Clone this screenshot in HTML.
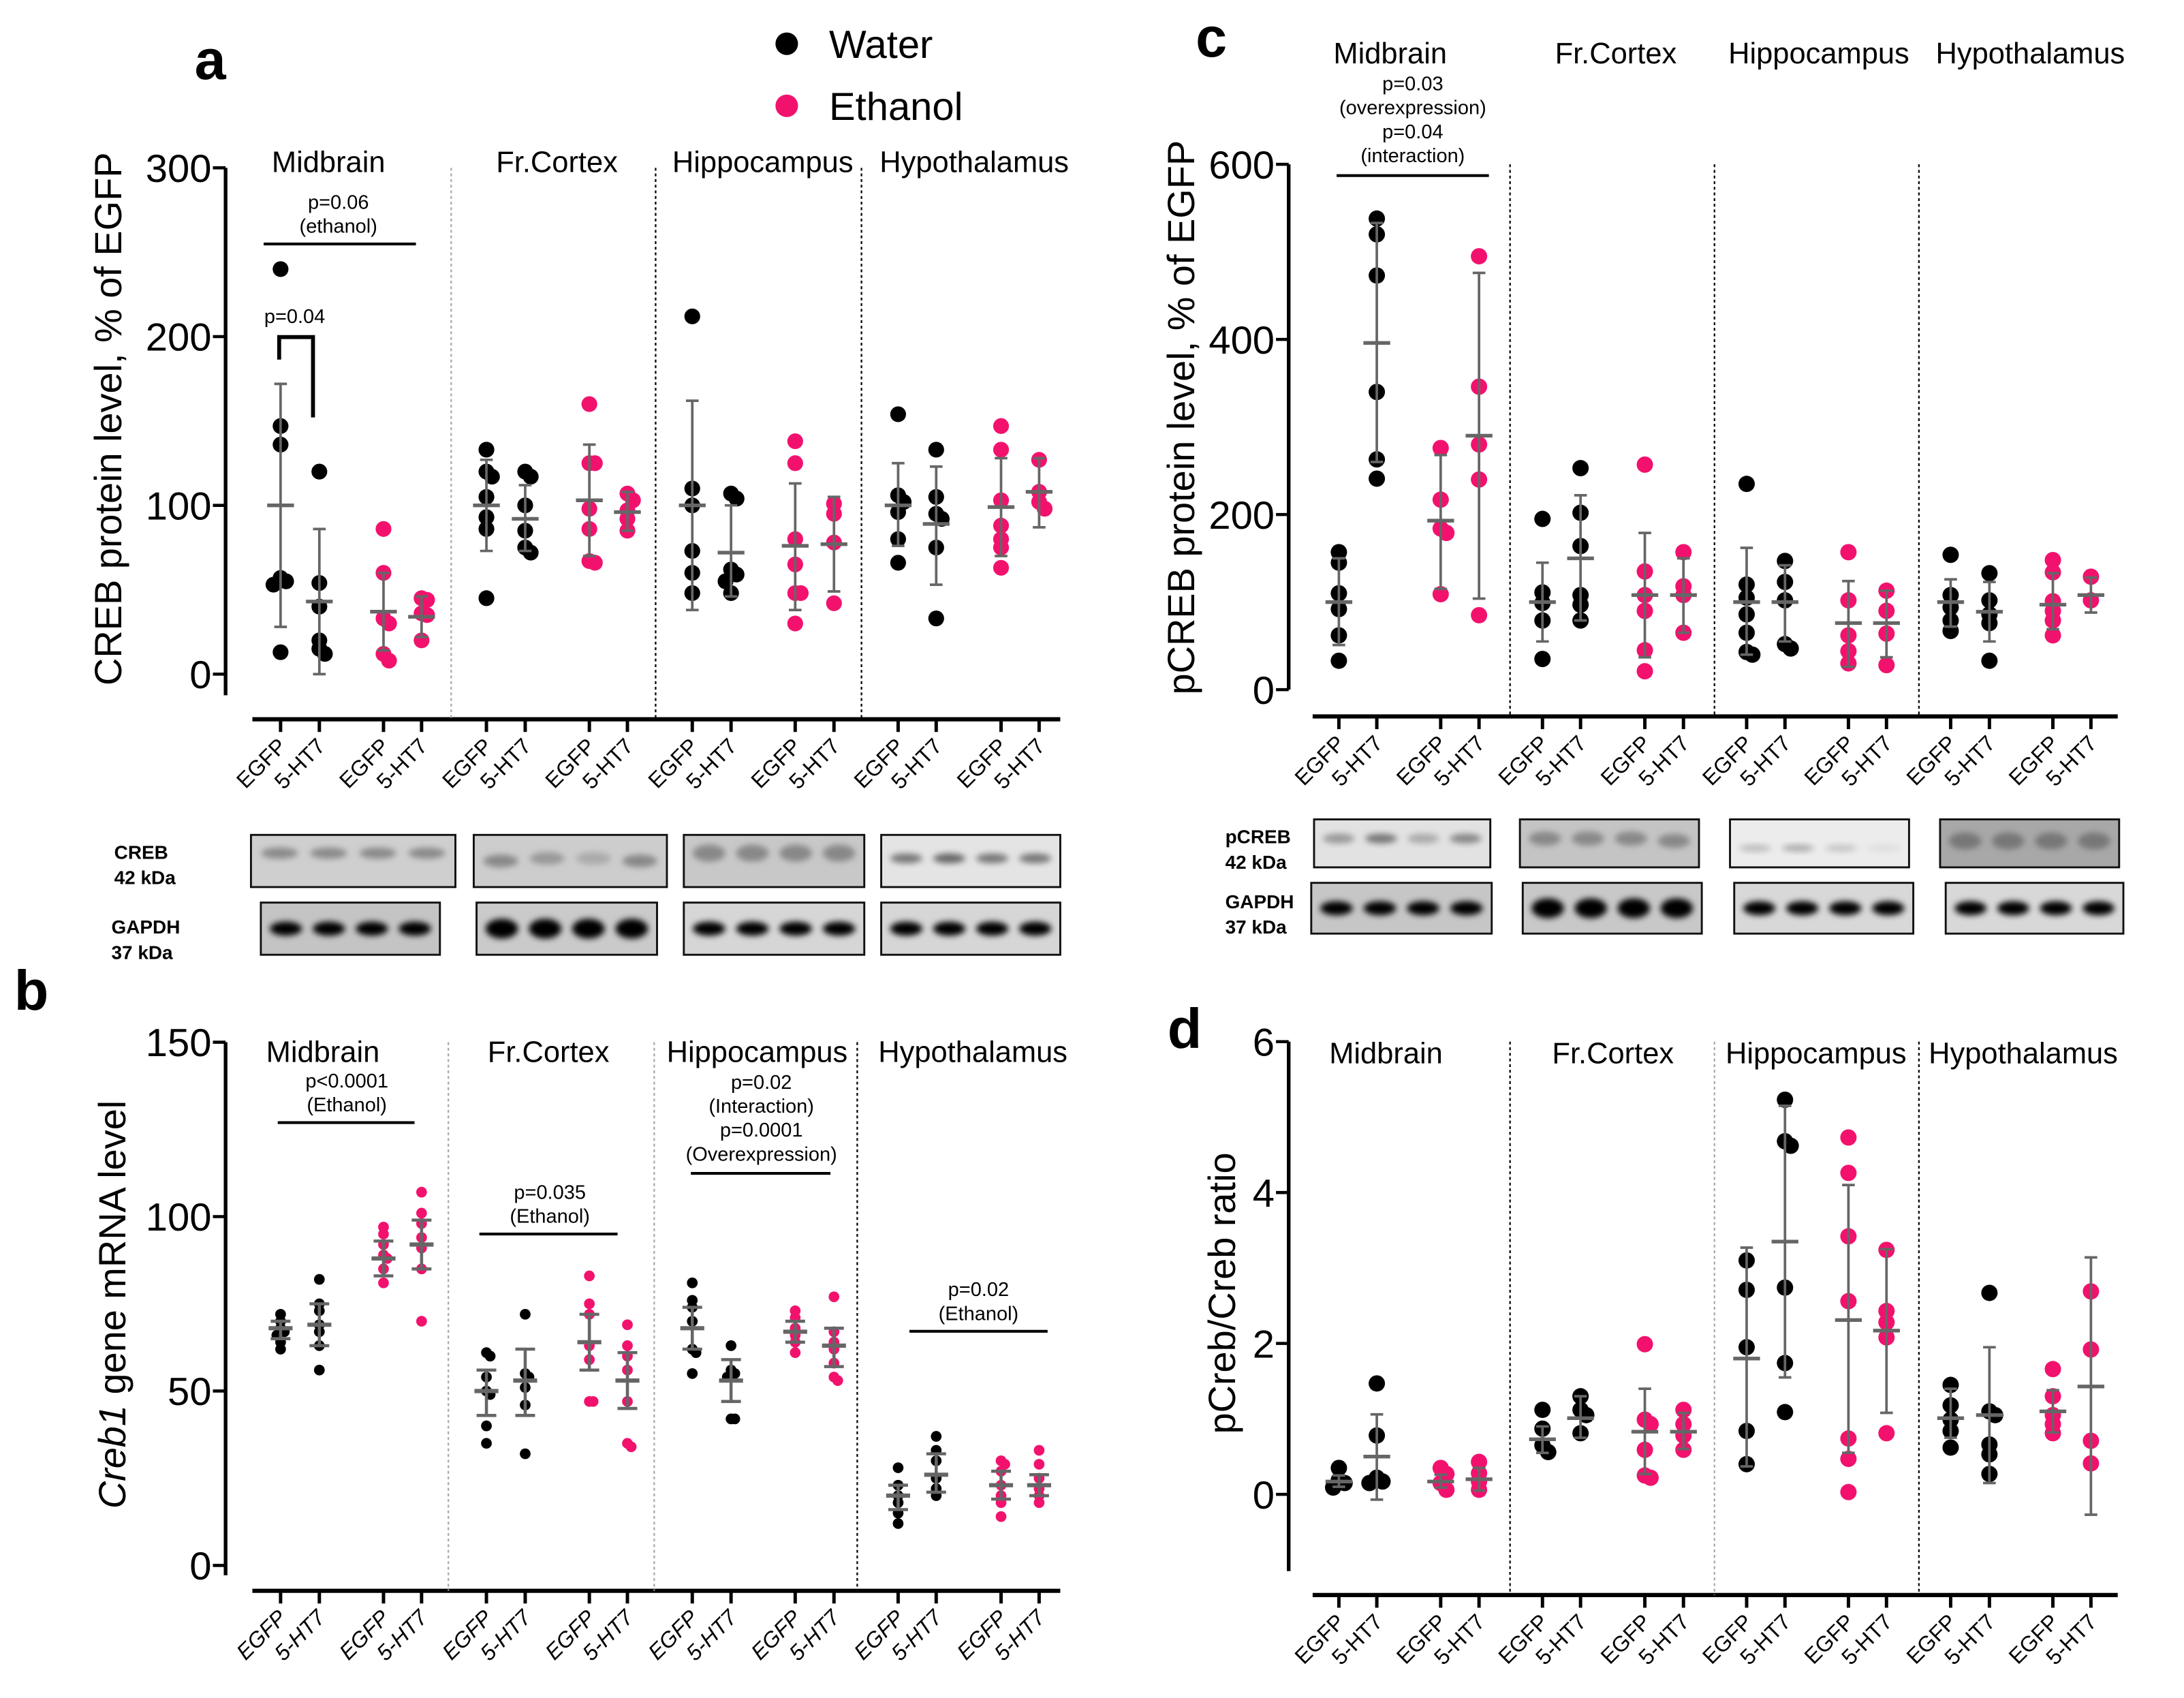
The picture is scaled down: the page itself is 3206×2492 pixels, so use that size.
<!DOCTYPE html>
<html><head><meta charset="utf-8"><style>
html,body{margin:0;padding:0;background:#fff;}
svg{display:block;font-family:"Liberation Sans",Arial,sans-serif;}
</style></head><body>
<svg id="fig" width="3206" height="2492" viewBox="0 0 1549 1204" xmlns="http://www.w3.org/2000/svg">
<defs>
<filter id="blur" x="-20%" y="-50%" width="140%" height="200%"><feGaussianBlur stdDeviation="2.2"/></filter>
</defs>
<g id="root"></g>
</svg>
<script>
// ---------- data ----------
const groupNames = ["EGFP","5-HT7","EGFP","5-HT7","EGFP","5-HT7","EGFP","5-HT7","EGFP","5-HT7","EGFP","5-HT7","EGFP","5-HT7","EGFP","5-HT7"];
const regions = ["Midbrain","Fr.Cortex","Hippocampus","Hypothalamus"];

const aPoints = [[240,147,136,57,55,53,13],[120,54,40,20,15,12],[86,60,33,30,12,8],[45,44,36,35,20],
 [133,120,117,105,93,86,45],[120,117,100,85,75,72],[160,125,125,98,86,67,66],[107,103,97,92,85],
 [212,110,100,73,60,48],[107,104,62,59,55,48],[138,125,80,65,48,48,30],[101,95,78,42],
 [154,106,102,96,80,66],[133,105,95,92,75,33],[147,133,103,88,80,75,63],[127,108,102,98]];
const aMeans = [100,43,37,34,100,92,103,96,100,72,76,77,100,89,99,108];
const aLo = [28,0,14,22,73,73,70,85,38,46,38,49,76,53,70,87];
const aHi = [172,86,60,46,127,112,136,108,162,100,113,105,125,123,128,128];

const bPoints = [[72,70,68,67,66,64,62],[82,75,73,69,67,63,56],[97,95,92,89,88,85,81],[107,101,98,94,91,85,70],
 [61,60,54,50,49,40,35],[72,55,54,51,46,32],[83,75,72,63,59,47,47],[69,63,60,56,47,35,34],
 [81,76,74,70,62,61,55],[63,56,55,54,42,42],[73,71,68,66,64,61],[77,67,64,62,58,54,53],
 [28,23,20,18,15,12],[37,33,30,25,22,20],[30,29,27,23,20,18,14],[33,29,25,22,20,18]];
const bMeans = [68,69,88,92,50,53,64,53,68,53,67,63,20,26,23,23];
const bLo = [65,63,83,85,43,43,56,45,62,47,64,57,16,21,19,20];
const bHi = [70,75,93,99,56,62,72,61,74,59,70,68,23,32,27,26];

const cPoints = [[157,145,110,92,62,33],[538,520,473,340,263,241],[276,217,184,179,109],[495,346,280,240,85],
 [195,111,99,79,35],[253,202,164,108,97,79],[257,135,108,90,45,21],[157,118,108,65],
 [235,120,105,86,65,43,40],[147,123,102,52,47],[157,102,62,44,30],[113,90,64,28],
 [154,108,94,79,67],[133,102,86,76,33],[148,134,101,90,79,62],[129,102]];
const cMeans = [100,396,193,290,100,150,108,108,100,100,76,76,100,89,97,108];
const cLo = [51,260,115,104,55,79,37,65,40,55,26,37,72,55,69,88];
const cHi = [150,533,268,476,145,222,179,150,162,142,124,113,126,123,133,128];

const dPoints = [[0.35,0.19,0.15,0.09],[1.47,0.78,0.22,0.17,0.15],[0.35,0.27,0.15,0.06],[0.43,0.28,0.17,0.06],
 [1.12,0.87,0.65,0.56],[1.3,1.12,1.05,0.81],[1.99,0.99,0.93,0.59,0.25,0.22],[1.12,0.93,0.78,0.59],
 [3.1,2.71,1.95,0.84,0.4],[5.23,4.68,4.62,2.74,1.74,1.09],[4.73,4.26,3.42,2.56,0.74,0.47,0.03],[3.24,2.43,2.28,2.08,0.81],
 [1.45,1.18,0.99,0.84,0.62],[2.67,1.1,1.05,0.66,0.53,0.27],[1.66,1.3,1.05,0.93,0.81],[2.69,1.92,0.71,0.41]];
const dMeans = [0.17,0.5,0.17,0.2,0.73,1.01,0.83,0.83,1.8,3.35,2.31,2.17,1.01,1.05,1.1,1.43];
const dLo = [0.1,-0.07,0.09,0.05,0.55,0.75,0.27,0.6,0.37,1.55,0.55,1.08,0.75,0.15,0.82,-0.27];
const dHi = [0.25,1.06,0.26,0.35,0.9,1.3,1.4,1.08,3.27,5.15,4.1,3.25,1.4,1.95,1.38,3.14];

const aTicks = [0,100,200,300];
const bTicks = [0,50,100,150];
const cTicks = [0,200,400,600];
const dTicks = [0,2,4,6];

// ---------- helpers ----------
const NS = "http://www.w3.org/2000/svg";
const root = document.getElementById("root");
const PINK = "#f2126e";
function mk(tag, attrs, parent){
  const e = document.createElementNS(NS, tag);
  for (const k in attrs) e.setAttribute(k, attrs[k]);
  (parent||root).appendChild(e);
  return e;
}
function txt(s, attrs, parent){ const e = mk("text", attrs, parent); e.textContent = s; return e; }

const xsLeft = [199,226.5,272,299,345,372.5,418,445,491,518.5,564,591.5,637,664,710,737];
const xsRight = [949.6,976.5,1021.8,1049,1094,1121,1166.6,1194,1238.8,1266,1311,1338,1383.5,1411,1456,1483];

function drawPanel(P){
  const g = mk("g", {});
  
  
  const y = v => P.y0 - (v - P.vmin) * (P.y0 - P.y1) / (P.vmax - P.vmin);
  const ya = mk("line", {x1:P.ax, x2:P.ax, y1:P.y1, y2:P.axBottom, stroke:"#000", "stroke-width":2.6}, g);
  
  
  P.ticks.forEach(t => {
    const tl = mk("line", {x1:P.ax-9, x2:P.ax, y1:y(t), y2:y(t), stroke:"#000", "stroke-width":2.2}, g);
    
    
    const tt = txt(String(t), {x:P.ax-10, y:y(t)+10, "text-anchor":"end", "font-size":28}, g);
    
    
  });
  const yt = mk("text", {transform:`translate(${P.titleX},${P.titleY}) rotate(-90)`, "text-anchor":"middle", "font-size":27}, g);
  
  
  if (P.italicPart){
    const s1 = document.createElementNS(NS,"tspan"); s1.setAttribute("font-style","italic"); s1.textContent = P.italicPart; yt.appendChild(s1);
    const s2 = document.createElementNS(NS,"tspan"); s2.textContent = P.title; yt.appendChild(s2);
  } else yt.textContent = P.title;
  const xa = mk("line", {x1:P.xl, x2:P.xr, y1:P.xaY, y2:P.xaY, stroke:"#000", "stroke-width":3}, g);
  
  
  P.xs.forEach((x,i) => {
    const tk = mk("line", {x1:x, x2:x, y1:P.xaY, y2:P.xaY+9, stroke:"#000", "stroke-width":2.4}, g);
    
    
    const lb = txt(groupNames[i], {transform:`translate(${x+5},${P.xaY+20}) rotate(-45)`, "text-anchor":"end", "font-size":15.5, "font-style":P.italicX?"italic":"normal"}, g);
    
    
  });
  P.dividers.forEach((d,i) => {
    const dl = mk("line", {x1:d, x2:d, y1:P.y1, y2:P.xaY, stroke:P.divColors[i], "stroke-width":1.1, "stroke-dasharray":"2,2"}, g);
    
    
  });
  regions.forEach((r,i) => {
    const rl = txt(r, {x:P.regX[i], y:P.regY, "text-anchor":"middle", "font-size":21}, g);
    
    
  });
  P.points.forEach((pts,i) => {
    const x = P.xs[i];
    const col = (i%4) < 2 ? "#000" : PINK;
    const gg = mk("g", {}, g);
    
    
    const placed = [];
    pts.forEach(v => {
      const py = y(v);
      let off = 0;
      const near = placed.filter(p => Math.abs(p.y - py) < P.r*0.9);
      if (near.length === 1) off = near[0].off <= 0 ? P.r*0.7 : -P.r*0.7;
      else if (near.length >= 2) off = (near.length % 2 ? 1 : -1) * P.r * 0.9;
      placed.push({y:py, off:off});
      const c = mk("circle", {cx:x+off, cy:py, r:P.r, fill:col}, gg);
      
      
    });
    const lo = y(P.lo[i]), hi = y(P.hi[i]), m = y(P.means[i]);
    const e1 = mk("line", {x1:x, x2:x, y1:lo, y2:hi, stroke:"#666", "stroke-width":P.ew}, gg);
    
    
    [lo,hi].forEach(yy => {
      const cap = mk("line", {x1:x-P.cap, x2:x+P.cap, y1:yy, y2:yy, stroke:"#666", "stroke-width":P.ew}, gg);
      
      
    });
    const ml = mk("line", {x1:x-P.mw, x2:x+P.mw, y1:m, y2:m, stroke:"#666", "stroke-width":P.ew+0.8}, gg);
    
    
  });
  P.annots.forEach(a => {
    a.lines.forEach((s,k) => {
      const t = txt(s, {x:a.x, y:a.y + k*17, "text-anchor":"middle", "font-size":14}, g);
      
      
    });
    const l = mk("line", {x1:a.x1, x2:a.x2, y1:a.ly, y2:a.ly, stroke:"#000", "stroke-width":2}, g);
    
    
  });
  return g;
}

drawPanel({name:"panel-a", ax:160, y0:478, y1:119, vmin:0, vmax:300, axBottom:493, ticks:aTicks,
  title:"CREB protein level, % of EGFP", titleX:86, titleY:297, xl:179, xr:752, xaY:510, xs:xsLeft,
  dividers:[320,465,611], divColors:["#aaa","#000","#000"], regX:[233,395,541,691], regY:122,
  points:aPoints, means:aMeans, lo:aLo, hi:aHi, r:5.6, ew:1.8, cap:4.5, mw:9.5,
  annots:[{x:240,y:148,lines:["p=0.06","(ethanol)"],x1:187,x2:295,ly:173}]});

drawPanel({name:"panel-b", ax:160, y0:1110, y1:739, vmin:0, vmax:150, axBottom:1117, ticks:bTicks,
  title:" gene mRNA level", italicPart:"Creb1", titleX:89, titleY:925, xl:179, xr:752, xaY:1128, xs:xsLeft, italicX:true,
  dividers:[318,464,608], divColors:["#aaa","#aaa","#000"], regX:[229,389,537,690], regY:753,
  points:bPoints, means:bMeans, lo:bLo, hi:bHi, r:3.8, ew:2.2, cap:7, mw:8.5,
  annots:[{x:246,y:771,lines:["p<0.0001","(Ethanol)"],x1:197,x2:294,ly:796},
          {x:390,y:850,lines:["p=0.035","(Ethanol)"],x1:340,x2:438,ly:875},
          {x:540,y:772,lines:["p=0.02","(Interaction)","p=0.0001","(Overexpression)"],x1:490,x2:589,ly:832},
          {x:694,y:919,lines:["p=0.02","(Ethanol)"],x1:645,x2:743,ly:944}]});

drawPanel({name:"panel-c", ax:914, y0:489, y1:116.5, vmin:0, vmax:600, axBottom:489, ticks:cTicks,
  title:"pCREB protein level, % of EGFP", titleX:847, titleY:296, xl:931, xr:1502, xaY:508, xs:xsRight,
  dividers:[1071,1216,1361], divColors:["#000","#000","#000"], regX:[986,1146,1290,1440], regY:45,
  points:cPoints, means:cMeans, lo:cLo, hi:cHi, r:5.8, ew:1.8, cap:4.5, mw:9.5,
  annots:[{x:1002,y:64,lines:["p=0.03","(overexpression)","p=0.04","(interaction)"],x1:948,x2:1056,ly:124.5}]});

drawPanel({name:"panel-d", ax:914, y0:1059.6, y1:738.6, vmin:0, vmax:6, axBottom:1114, ticks:dTicks,
  title:"pCreb/Creb ratio", titleX:876, titleY:917, xl:931, xr:1502, xaY:1131, xs:xsRight,
  dividers:[1071,1216,1361], divColors:["#000","#aaa","#000"], regX:[983,1144,1288,1435], regY:754,
  points:dPoints, means:dMeans, lo:dLo, hi:dHi, r:5.8, ew:1.8, cap:4.5, mw:9.5, annots:[]});

const bt = txt("p=0.04", {x:209, y:229, "text-anchor":"middle", "font-size":14});


const br = mk("path", {d:"M198,255 V239 H222 V296", fill:"none", stroke:"#000", "stroke-width":2.8});



[["a",138,56],["b",10,716],["c",848,40],["d",828,743]].forEach(l => {
  const t = txt(l[0], {x:l[1], y:l[2], "font-size":40, "font-weight":"bold"});
  
  
});

const lg = mk("g", {});


const ld1 = mk("circle", {cx:558, cy:31, r:8, fill:"#000"}, lg);


const lt1 = txt("Water", {x:588, y:41, "font-size":28}, lg);


const ld2 = mk("circle", {cx:558, cy:75, r:8, fill:PINK}, lg);


const lt2 = txt("Ethanol", {x:588, y:85, "font-size":28}, lg);



function blot(x, y, w, h, bg, bands, bandH, name){
  const g = mk("g", {});
  
  
  mk("rect", {x:x, y:y, width:w, height:h, fill:bg}, g);
  bands.forEach((b,i) => {
    const bx = x + w*(0.14 + i*0.24);
    mk("ellipse", {cx:bx, cy:y+h*b[1], rx:w*0.09, ry:bandH, fill:b[0], filter:"url(#blur)"}, g);
  });
  mk("rect", {x:x, y:y, width:w, height:h, fill:"none", stroke:"#111", "stroke-width":1.4}, g);
}
function blotLabel(x, y, a, b){
  const t1 = txt(a, {x:x, y:y, "font-size":13.5, "font-weight":"bold"});
  
  
  const t2 = txt(b, {x:x, y:y+18, "font-size":13.5, "font-weight":"bold"});
  
  
}
const weak = c => [[c,0.35],[c,0.35],[c,0.35],[c,0.35]];
blotLabel(81,609,"CREB","42 kDa");
blotLabel(79,662,"GAPDH","37 kDa");
blot(178,592,145,37,"#cfcfcf",weak("#8a8a8a"),4,"creb-blot-midbrain");
blot(336,592,137,37,"#cdcdcd",[["#888",0.5],["#999",0.45],["#aaa",0.45],["#888",0.5]],4.5,"creb-blot-frcortex");
blot(485,592,128,37,"#c8c8c8",weak("#888"),6,"creb-blot-hippocampus");
blot(625,592,127,37,"#e4e4e4",[["#777",0.45],["#666",0.45],["#777",0.45],["#777",0.45]],3.5,"creb-blot-hypothalamus");
const strong = [["#000",0.5],["#000",0.5],["#000",0.5],["#000",0.5]];
blot(185,640,127,37,"#c4c4c4",strong,5,"gapdh-blot-midbrain");
blot(338,640,128,37,"#cacaca",strong,7,"gapdh-blot-frcortex");
blot(485,640,128,37,"#d6d6d6",strong,5,"gapdh-blot-hippocampus");
blot(625,640,127,37,"#d6d6d6",strong,5,"gapdh-blot-hypothalamus");

blotLabel(869,598,"pCREB","42 kDa");
blotLabel(869,644,"GAPDH","37 kDa");
blot(932,581,125,34,"#e2e2e2",[["#999",0.4],["#777",0.4],["#aaa",0.4],["#888",0.4]],3.5,"pcreb-blot-midbrain");
blot(1078,581,127,34,"#c4c4c4",[["#888",0.4],["#888",0.4],["#888",0.4],["#888",0.45]],5,"pcreb-blot-frcortex");
blot(1227,581,127,34,"#ececec",[["#bbb",0.6],["#aaa",0.6],["#c4c4c4",0.6],["#ddd",0.6]],2.5,"pcreb-blot-hippocampus");
blot(1376,581,127,34,"#a8a8a8",[["#777",0.45],["#777",0.45],["#777",0.45],["#777",0.45]],6,"pcreb-blot-hypothalamus");
blot(930,626,128,36,"#c6c6c6",strong,5,"gapdh-blot-c-midbrain");
blot(1080,626,127,36,"#c8c8c8",strong,7,"gapdh-blot-c-frcortex");
blot(1230,626,127,36,"#d8d8d8",strong,5,"gapdh-blot-c-hippocampus");
blot(1380,626,126,36,"#d8d8d8",strong,5,"gapdh-blot-c-hypothalamus");
</script>
</body></html>
